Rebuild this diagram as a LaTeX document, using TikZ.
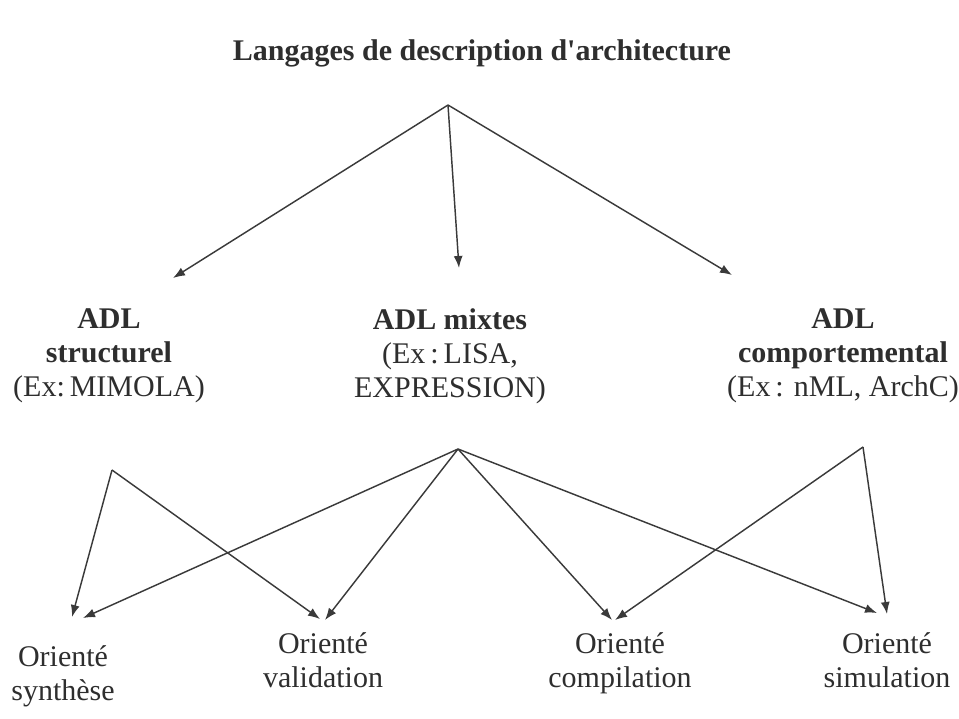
\documentclass[tikz,border=0pt]{standalone}
\usepackage{fontspec}
\setmainfont{Liberation Serif}[Ligatures=TeXOff]
\usetikzlibrary{arrows.meta}

\definecolor{ink}{HTML}{2E2E2E}
\definecolor{wire}{HTML}{3A3A3A}

\begin{document}
\begin{tikzpicture}[x=1pt,y=-1pt,
  label/.style={align=center,inner sep=0pt,text=ink,
    font=\fontsize{30}{34}\selectfont},
  heading/.style={inner sep=0pt,text=ink,
    font=\fontsize{30}{34}\selectfont\bfseries},
  link/.style={draw=wire,line width=1.45pt,
    -{Latex[length=12pt,width=9pt]}}]

\useasboundingbox (0,0) rectangle (959,718);

% title
\node[heading,anchor=base] (title) at (482,60) {Langages de description d'architecture};

% the three families of ADL
\node[label] (adlS) at (109,356)
  {\textbf{ADL}\\\textbf{structurel}\\(Ex:\,MIMOLA)};
\node[label] (adlM) at (450,356)
  {\textbf{ADL mixtes}\\(Ex\,:\,LISA,\\EXPRESSION)};
\node[label] (adlC) at (843,356)
  {\textbf{ADL}\\\textbf{comportemental}\\(Ex\,: nML, ArchC)};

% orientations
\node[label] (oSyn)  at (63,677)  {Orienté\strut\\synthèse\strut};
\node[label] (oVal)  at (323,664) {Orienté\strut\\validation\strut};
\node[label] (oComp) at (620,664) {Orienté\strut\\compilation\strut};
\node[label] (oSim)  at (887,664) {Orienté\strut\\simulation\strut};

% branching points
\coordinate (top)   at (448,105);
\coordinate (forkS) at (112,470);
\coordinate (forkM) at (458,449);
\coordinate (forkC) at (863,447);

% arrow ends above each label
\coordinate (inS)  at (173,278);
\coordinate (inM)  at (459,268);
\coordinate (inC)  at (732,275);
\coordinate (synA) at (72,617);
\coordinate (synB) at (83,618);
\coordinate (valA) at (320,619);
\coordinate (valB) at (325,620);
\coordinate (comA) at (612,620);
\coordinate (comB) at (615,620);
\coordinate (simA) at (877,613);
\coordinate (simB) at (887,614);

% classification
\draw[link] (top) -- (inS);
\draw[link] (top) -- (inM);
\draw[link] (top) -- (inC);

% structural ADL
\draw[link] (forkS) -- (synA);
\draw[link] (forkS) -- (valA);

% mixed ADL
\draw[link] (forkM) -- (synB);
\draw[link] (forkM) -- (valB);
\draw[link] (forkM) -- (comA);
\draw[link] (forkM) -- (simA);

% behavioural ADL
\draw[link] (forkC) -- (comB);
\draw[link] (forkC) -- (simB);
\end{tikzpicture}
\end{document}
